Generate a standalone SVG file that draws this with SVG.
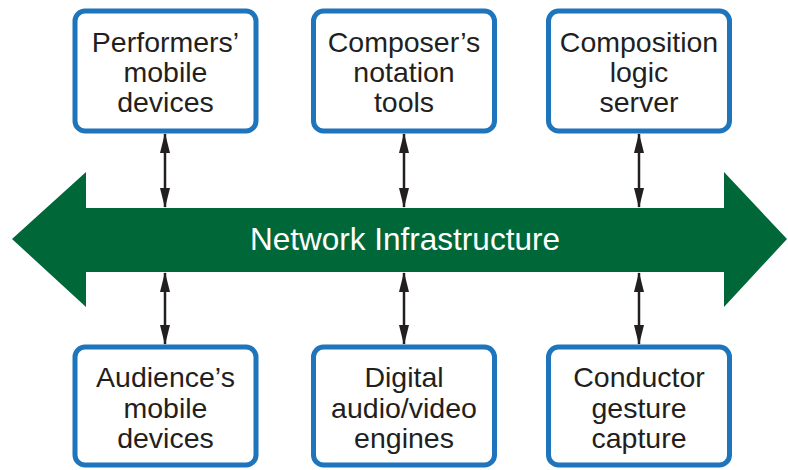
<svg xmlns="http://www.w3.org/2000/svg" width="788" height="470" viewBox="0 0 788 470">
<defs>
<marker id="ah" viewBox="0 0 20 10" refX="19" refY="5" markerWidth="20" markerHeight="10" markerUnits="userSpaceOnUse" orient="auto-start-reverse">
<path d="M0,0 L20,5 L0,10 Z" fill="#231f20"/>
</marker>
<style>
.box{fill:#fff;stroke:#1f75bb;stroke-width:5}
.t{font-family:"Liberation Sans",Arial,sans-serif;font-size:28.5px;fill:#231f20;text-anchor:middle}
.c{stroke:#231f20;stroke-width:2.5;fill:none}
</style>
</defs>
<g id="network">
<polygon points="12,239 86,172 86,208 724,208 724,172 787,239 724,307 724,272 86,272 86,307" fill="#006838"/>
<text x="405" y="250" font-family="Liberation Sans,Arial,sans-serif" font-size="31.5" fill="#fff" text-anchor="middle">Network Infrastructure</text>
</g>
<g id="connectors">
<line class="c" x1="165" y1="134" x2="165" y2="207" marker-start="url(#ah)" marker-end="url(#ah)"/>
<line class="c" x1="404" y1="134" x2="404" y2="207" marker-start="url(#ah)" marker-end="url(#ah)"/>
<line class="c" x1="639" y1="134" x2="639" y2="207" marker-start="url(#ah)" marker-end="url(#ah)"/>
<line class="c" x1="165" y1="273" x2="165" y2="344" marker-start="url(#ah)" marker-end="url(#ah)"/>
<line class="c" x1="404" y1="273" x2="404" y2="344" marker-start="url(#ah)" marker-end="url(#ah)"/>
<line class="c" x1="639" y1="273" x2="639" y2="344" marker-start="url(#ah)" marker-end="url(#ah)"/>
</g>
<g id="performers">
<rect class="box" x="75" y="11" width="181" height="120" rx="10"/>
<text class="t" x="165.5" y="52">Performers’</text>
<text class="t" x="165.5" y="82">mobile</text>
<text class="t" x="165.5" y="112">devices</text>
</g>
<g id="composer">
<rect class="box" x="313.5" y="11" width="181" height="120" rx="10"/>
<text class="t" x="404" y="52">Composer’s</text>
<text class="t" x="404" y="82">notation</text>
<text class="t" x="404" y="112">tools</text>
</g>
<g id="server">
<rect class="box" x="548.5" y="11" width="181" height="120" rx="10"/>
<text class="t" x="639" y="52">Composition</text>
<text class="t" x="639" y="82">logic</text>
<text class="t" x="639" y="112">server</text>
</g>
<g id="audience">
<rect class="box" x="75" y="347" width="181" height="118" rx="10"/>
<text class="t" x="165.5" y="387">Audience’s</text>
<text class="t" x="165.5" y="418">mobile</text>
<text class="t" x="165.5" y="448">devices</text>
</g>
<g id="engines">
<rect class="box" x="313.5" y="347" width="181" height="118" rx="10"/>
<text class="t" x="404" y="387">Digital</text>
<text class="t" x="404" y="418">audio/video</text>
<text class="t" x="404" y="448">engines</text>
</g>
<g id="conductor">
<rect class="box" x="548.5" y="347" width="181" height="118" rx="10"/>
<text class="t" x="639" y="387">Conductor</text>
<text class="t" x="639" y="418">gesture</text>
<text class="t" x="639" y="448">capture</text>
</g>
</svg>
